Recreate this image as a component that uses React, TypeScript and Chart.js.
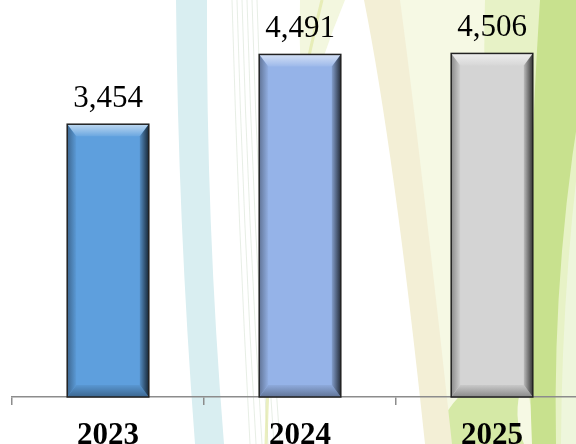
import React, { useEffect, useRef } from "react";
import { Chart, registerables } from "chart.js";

Chart.register(...registerables);

const categories: string[] = ["2023", "2024", "2025"];
const values: number[] = [3454, 4491, 4506];
const barColors: string[] = ["#5E9FDD", "#95B3E8", "#D4D4D4"];
const axisMin = -600;
const axisMax = 5300;

const shade = (hex: string, amt: number): string => {
  const n = parseInt(hex.slice(1), 16);
  let r = n >> 16, g = (n >> 8) & 255, b = n & 255;
  const t = amt < 0 ? 0 : 255;
  const p = Math.abs(amt);
  r = Math.round((t - r) * p + r);
  g = Math.round((t - g) * p + g);
  b = Math.round((t - b) * p + b);
  return `rgb(${r},${g},${b})`;
};

const poly = (ctx: CanvasRenderingContext2D, pts: number[][]) => {
  ctx.beginPath();
  ctx.moveTo(pts[0][0], pts[0][1]);
  for (let i = 1; i < pts.length; i++) ctx.lineTo(pts[i][0], pts[i][1]);
  ctx.closePath();
};

const backgroundPlugin = {
  id: "bgDeco",
  beforeDraw(chart: any) {
    const ctx: CanvasRenderingContext2D = chart.ctx;
    const W = chart.width, H = chart.height;
    ctx.save();
    ctx.fillStyle = "#ffffff";
    ctx.fillRect(0, 0, W, H);
    // pale yellow-green region
    ctx.fillStyle = "#f6f9e4";
    ctx.beginPath();
    ctx.moveTo(398, 0); ctx.lineTo(490, 0);
    ctx.quadraticCurveTo(478, 200, 540, 444);
    ctx.lineTo(450, 444);
    ctx.quadraticCurveTo(420, 150, 398, 0);
    ctx.fill();
    // pale lime
    ctx.fillStyle = "#e7f2c6";
    ctx.beginPath();
    ctx.moveTo(485, 0); ctx.lineTo(W, 0); ctx.lineTo(W, H); ctx.lineTo(540, 444);
    ctx.quadraticCurveTo(478, 200, 485, 0);
    ctx.fill();
    // bright lime stripe
    ctx.fillStyle = "#c8e18e";
    ctx.beginPath();
    ctx.moveTo(540, 0); ctx.lineTo(W, 0); ctx.lineTo(W, 60);
    ctx.quadraticCurveTo(552, 250, 556, 444);
    ctx.lineTo(532, 444);
    ctx.quadraticCurveTo(524, 250, 540, 0);
    ctx.fill();
    // whitish right streak
    ctx.fillStyle = "#eef6dc";
    ctx.beginPath();
    ctx.moveTo(W, 90);
    ctx.quadraticCurveTo(562, 260, 561, 444);
    ctx.lineTo(W, H);
    ctx.closePath();
    ctx.fill();
    // bottom lime patch
    ctx.fillStyle = "#d5e9a6";
    ctx.beginPath();
    ctx.moveTo(432, 444);
    ctx.quadraticCurveTo(445, 405, 472, 385);
    ctx.lineTo(522, 385);
    ctx.quadraticCurveTo(512, 415, 524, 444);
    ctx.closePath();
    ctx.fill();
    // beige band
    ctx.fillStyle = "#f3efd6";
    ctx.beginPath();
    ctx.moveTo(364, 0); ctx.lineTo(400, 0);
    ctx.quadraticCurveTo(420, 150, 452, 444);
    ctx.lineTo(425, 444);
    ctx.quadraticCurveTo(394, 150, 364, 0);
    ctx.fill();
    // pale region near top-middle
    ctx.fillStyle = "#f3f7df";
    ctx.beginPath();
    ctx.moveTo(300, 0); ctx.lineTo(345, 0);
    ctx.quadraticCurveTo(320, 60, 305, 120);
    ctx.quadraticCurveTo(298, 60, 300, 0);
    ctx.fill();
    // cyan band
    ctx.fillStyle = "#d9eef1";
    ctx.beginPath();
    ctx.moveTo(176, 0); ctx.lineTo(207, 0);
    ctx.quadraticCurveTo(206, 220, 224, 444);
    ctx.lineTo(195, 444);
    ctx.quadraticCurveTo(178, 220, 176, 0);
    ctx.fill();
    // faint thin lines
    ctx.lineWidth = 1;
    ctx.strokeStyle = "rgba(185,205,180,0.35)";
    for (let i = 0; i < 6; i++) {
      ctx.beginPath();
      ctx.moveTo(232 + i * 5, 0);
      ctx.quadraticCurveTo(238 + i * 5, 220, 250 + i * 6, 444);
      ctx.stroke();
    }
    // yellow thin stripe
    ctx.strokeStyle = "rgba(225,232,165,0.7)";
    ctx.lineWidth = 3;
    ctx.beginPath();
    ctx.moveTo(266, 444);
    ctx.quadraticCurveTo(272, 200, 322, 0);
    ctx.stroke();
    ctx.restore();
  },
};

const bevelPlugin = {
  id: "bevelBars",
  afterDatasetsDraw(chart: any) {
    const ctx: CanvasRenderingContext2D = chart.ctx;
    const meta = chart.getDatasetMeta(0);
    meta.data.forEach((bar: any, i: number) => {
      const { x, y, base, width } = bar.getProps(["x", "y", "base", "width"], true);
      const l = x - width / 2, r = x + width / 2, t = y, b = base;
      const c = barColors[i];
      const bv = 12, sv = 9;
      ctx.save();
      let g = ctx.createLinearGradient(0, t, 0, t + bv);
      g.addColorStop(0, shade(c, 0.6));
      g.addColorStop(1, shade(c, 0.08));
      ctx.fillStyle = g;
      poly(ctx, [[l, t], [r, t], [r - sv, t + bv], [l + sv, t + bv]]);
      ctx.fill();
      g = ctx.createLinearGradient(0, b - bv, 0, b);
      g.addColorStop(0, shade(c, -0.05));
      g.addColorStop(1, shade(c, -0.35));
      ctx.fillStyle = g;
      poly(ctx, [[l, b], [l + sv, b - bv], [r - sv, b - bv], [r, b]]);
      ctx.fill();
      g = ctx.createLinearGradient(l, 0, l + sv, 0);
      g.addColorStop(0, shade(c, -0.35));
      g.addColorStop(1, shade(c, -0.03));
      ctx.fillStyle = g;
      poly(ctx, [[l, t], [l + sv, t + bv], [l + sv, b - bv], [l, b]]);
      ctx.fill();
      g = ctx.createLinearGradient(r - sv, 0, r, 0);
      g.addColorStop(0, shade(c, -0.12));
      g.addColorStop(1, shade(c, -0.75));
      ctx.fillStyle = g;
      poly(ctx, [[r, t], [r, b], [r - sv, b - bv], [r - sv, t + bv]]);
      ctx.fill();
      ctx.strokeStyle = "#222222";
      ctx.lineWidth = 1.5;
      ctx.strokeRect(l, t, r - l, b - t);
      ctx.restore();
    });
  },
};

const valueLabelPlugin = {
  id: "valueLabels",
  afterDatasetsDraw(chart: any) {
    const ctx: CanvasRenderingContext2D = chart.ctx;
    const meta = chart.getDatasetMeta(0);
    ctx.save();
    ctx.font = '31px "Liberation Serif"';
    ctx.fillStyle = "#000000";
    ctx.textAlign = "center";
    ctx.textBaseline = "alphabetic";
    meta.data.forEach((bar: any, i: number) => {
      const { x, y } = bar.getProps(["x", "y"], true);
      ctx.fillText(values[i].toLocaleString("en-US"), x, y - 17);
    });
    ctx.restore();
  },
};

export default function App() {
  const ref = useRef<HTMLCanvasElement | null>(null);
  useEffect(() => {
    if (!ref.current) return;
    const chart = new Chart(ref.current, {
      type: "bar",
      data: {
        labels: categories,
        datasets: [
          {
            data: values,
            base: axisMin,
            backgroundColor: barColors,
            borderWidth: 0,
            barPercentage: 0.425,
            categoryPercentage: 1,
          },
        ],
      },
      options: {
        responsive: false,
        animation: false,
        layout: { padding: { left: 12, right: 0, top: 0, bottom: 0 } },
        plugins: { legend: { display: false }, tooltip: { enabled: false } },
        scales: {
          x: {
            grid: {
              display: true,
              drawOnChartArea: false,
              drawTicks: true,
              tickLength: 8,
              color: "#8c8c8c",
              lineWidth: 1.5,
              offset: true,
            },
            border: { display: true, color: "#8c8c8c", width: 1.5 },
            ticks: {
              color: "#000000",
              padding: 12,
              font: { family: '"Liberation Serif"', size: 31, weight: "bold" },
              maxRotation: 0,
            },
            afterFit: (s: any) => {
              s.height = 47;
            },
          },
          y: { display: false, min: axisMin, max: axisMax },
        },
      },
      plugins: [backgroundPlugin, bevelPlugin, valueLabelPlugin],
    } as any);
    return () => chart.destroy();
  }, []);
  return (
    <div style={{ position: "absolute", left: 0, top: 0, width: 576, height: 444, overflow: "hidden" }}>
      <canvas ref={ref} width={588} height={444} style={{ display: "block", width: 588, height: 444 }} />
    </div>
  );
}
